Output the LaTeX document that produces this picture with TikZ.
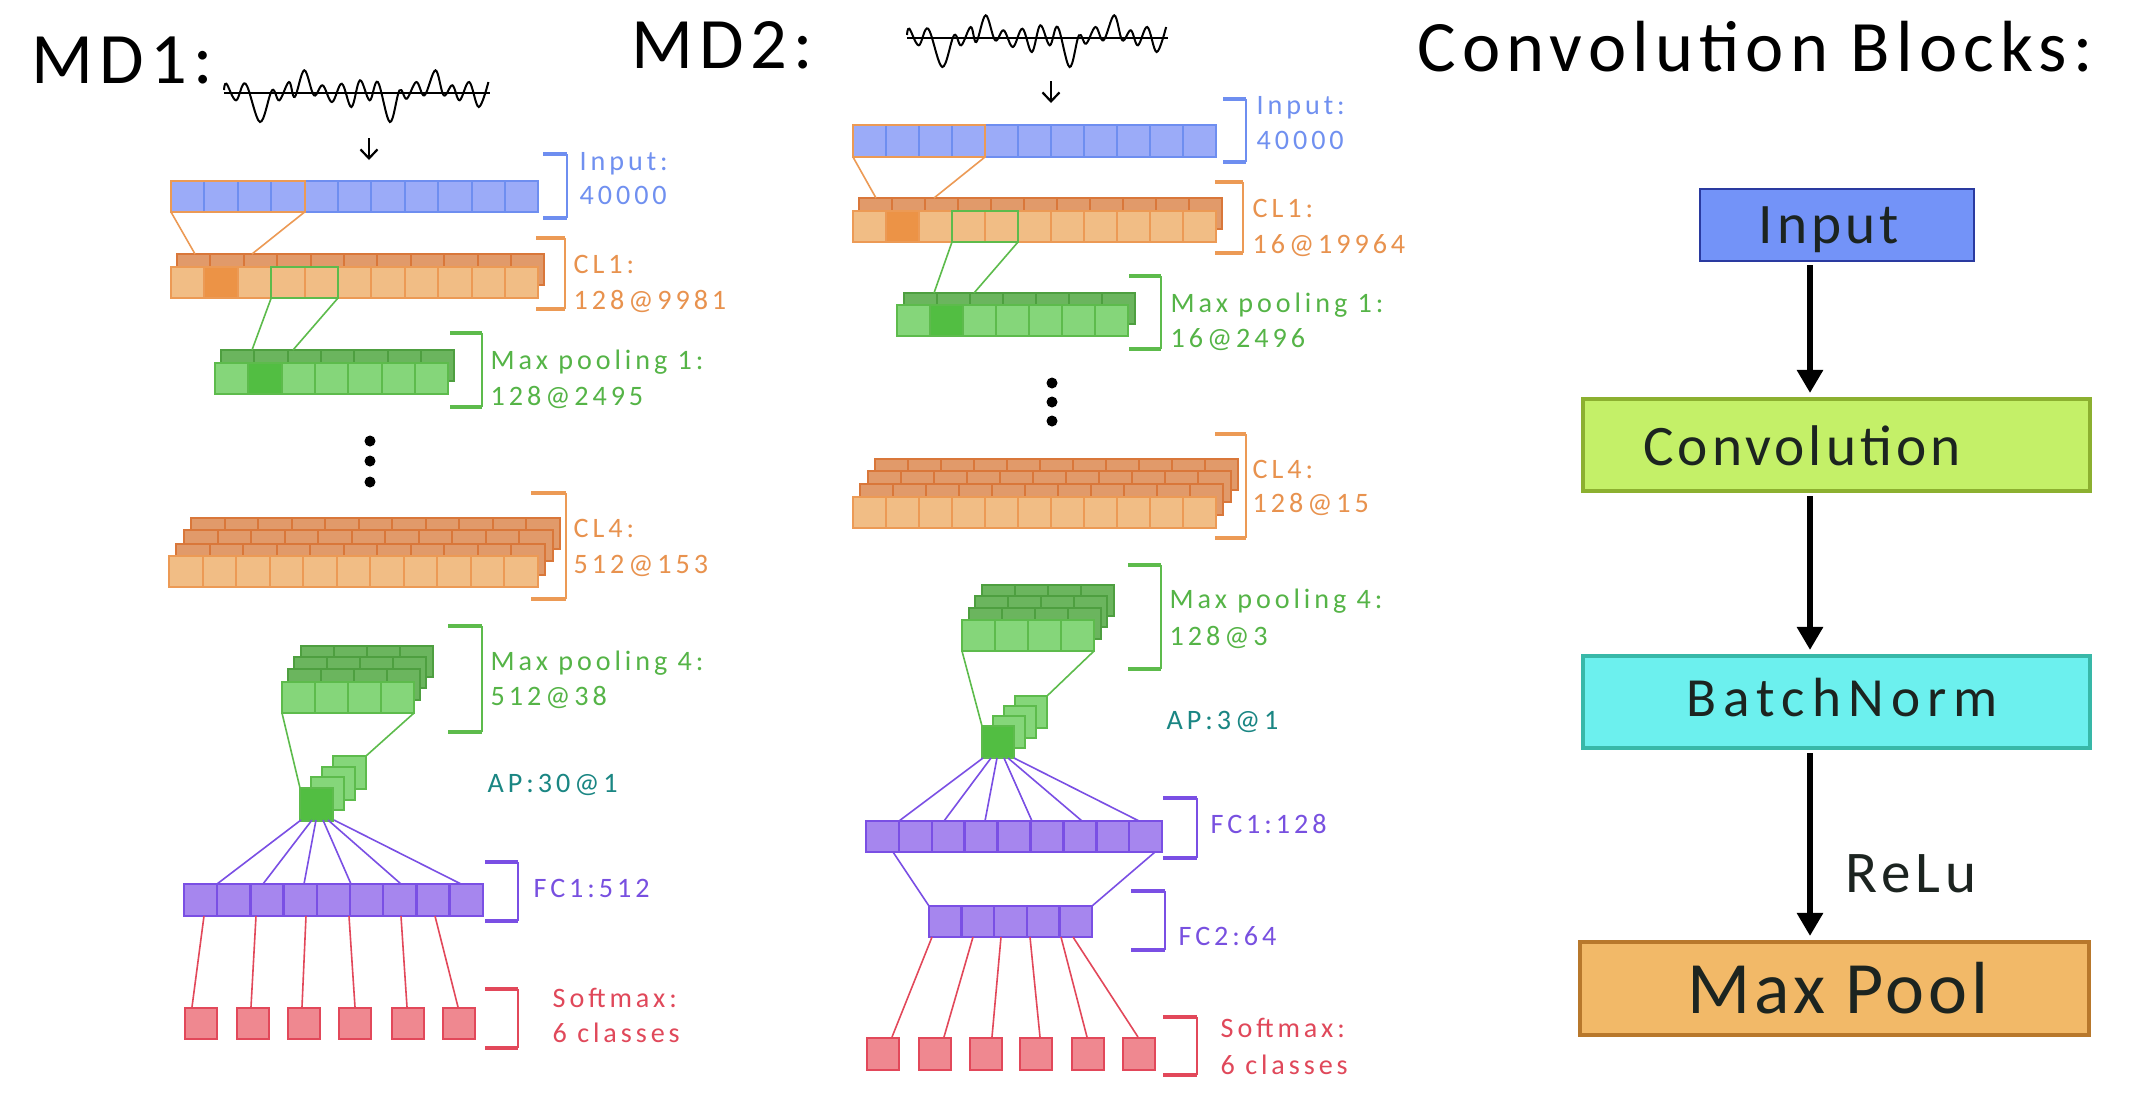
\documentclass[tikz,border=0pt]{standalone}
\usepackage{fontspec}
\setmainfont{Carlito}
\newfontfamily\labf[LetterSpace=14]{Carlito}
\newfontfamily\ttlf[LetterSpace=8.5]{Carlito}
\usetikzlibrary{arrows.meta}
\definecolor{inpF}{HTML}{9BABF8}
\definecolor{inpD}{HTML}{6E8EF0}
\definecolor{orF}{HTML}{F1BD85}
\definecolor{orD}{HTML}{EC9A55}
\definecolor{orbF}{HTML}{E19A6A}
\definecolor{orbD}{HTML}{D9773A}
\definecolor{orK}{HTML}{EC9346}
\definecolor{grF}{HTML}{85D67A}
\definecolor{grD}{HTML}{5DBB4C}
\definecolor{grbF}{HTML}{6BB55E}
\definecolor{grbD}{HTML}{4E9F40}
\definecolor{grK}{HTML}{52BE42}
\definecolor{puF}{HTML}{A686EE}
\definecolor{puD}{HTML}{7A4FE4}
\definecolor{reF}{HTML}{EF8890}
\definecolor{reD}{HTML}{E2485A}
\definecolor{teT}{HTML}{1A8683}
\definecolor{orT}{HTML}{E8924E}
\definecolor{grT}{HTML}{55B447}
\definecolor{inT}{HTML}{7090F0}
\definecolor{puT}{HTML}{7850E0}
\definecolor{reT}{HTML}{E0485A}
\definecolor{bInF}{HTML}{7393F8}
\definecolor{bInD}{HTML}{2A3AA0}
\definecolor{bCvF}{HTML}{C4F068}
\definecolor{bCvD}{HTML}{8CB030}
\definecolor{bBnF}{HTML}{6CF0EE}
\definecolor{bBnD}{HTML}{38B8A8}
\definecolor{bMpF}{HTML}{F2B968}
\definecolor{bMpD}{HTML}{B8782C}
\definecolor{btxt}{HTML}{1C2420}
\tikzset{
  cellI/.style={fill=inpF, draw=inpD, line width=0.02cm},
  cellO/.style={fill=orF, draw=orD, line width=0.02cm},
  cellOb/.style={fill=orbF, draw=orbD, line width=0.02cm},
  cellOd/.style={fill=orK, draw=orD, line width=0.02cm},
  cellG/.style={fill=grF, draw=grD, line width=0.02cm},
  cellGb/.style={fill=grbF, draw=grbD, line width=0.02cm},
  cellGd/.style={fill=grK, draw=grD, line width=0.02cm},
  cellP/.style={fill=puF, draw=puD, line width=0.025cm},
  cellR/.style={fill=reF, draw=reD, line width=0.02cm},
  hlO/.style={draw=orD, line width=0.02cm},
  hlG/.style={draw=grD, line width=0.02cm},
  conO/.style={draw=orD, line width=0.016cm},
  conG/.style={draw=grD, line width=0.016cm},
  conP/.style={draw=puD, line width=0.016cm},
  conR/.style={draw=reD, line width=0.016cm},
  lab/.style={font=\labf\fontsize{8}{9}\selectfont, inner sep=0pt, anchor=base west},
  ttl/.style={font=\ttlf\fontsize{20.6}{24}\selectfont, inner sep=0pt, anchor=base west},
  bbox/.style={inner sep=0pt},
  btext/.style={inner sep=0pt, anchor=base, text=btxt},
  barr/.style={line width=0.066cm, -{Triangle[width=0.25cm,length=0.23cm]}, shorten <=0.03cm, shorten >=0.04cm},
  sarr/.style={line width=0.022cm, -{Straight Barb[length=0.09cm,width=0.17cm]}},
  dotf/.style={fill=black}
}
\newcommand{\cellrow}[6]{\foreach \k in {1,...,#3}{\draw[#6] ({#1+(\k-1)*#4},#2) rectangle ++(#4,#5);}}
\newcommand{\mybrk}[5]{%
  \draw[#5, line width=0.04cm] (#1,#3) -- (#2,#3);
  \draw[#5, line width=0.02cm] (#2,#3) -- (#2,#4);
  \draw[#5, line width=0.04cm] (#1,#4) -- (#2,#4);}
\newcommand{\apcube}[5]{% x y size dx dy
  \foreach \k in {3,2,1}{\draw[cellG] ({#1+#4*\k},{#2-#5*\k}) rectangle ++(#3,#3);}
  \draw[cellGd] (#1,#2) rectangle ++(#3,#3);}
\newcommand{\mysignal}[3]{%
  \begin{scope}[shift={(#1,#2)}, xscale=#3]
    \draw[line width=0.022cm] (0,0) -- (266,0);
    \draw[line width=0.02cm] plot[smooth, tension=0.6] coordinates {(0,-3) (2.4,-9.3) (12,7.3) (21.6,-9.3) (36,29) (48,-2.7) (55.3,7.3) (65,-11) (70.7,4) (80.3,-22.7) (90,2.3) (98.6,-7.7) (108,9) (117.8,-9.3) (127.4,14) (136,-12.7) (145.7,7.3) (153.8,-11) (165.9,29) (175.5,-2.7) (182.7,5.7) (192.3,-11) (200.5,2.3) (211.5,-22.7) (219.7,2.3) (228.4,-7.7) (235.6,7.3) (245.2,-11) (254.8,14) (264.4,-11)};
  \end{scope}}
\begin{document}
\begin{tikzpicture}[x=0.01cm,y=-0.01cm]
\useasboundingbox (0,0) rectangle (2147,1105);
\fill[white] (0,0) rectangle (2147,1105);

% ================= MD1 =================
\node[ttl] (md1) at (31,83) {MD1:};
\mysignal{224}{93}{1}
\coordinate (s1a) at (369,138); \coordinate (s1b) at (369,160);
\draw[sarr] (s1a) -- (s1b);
% input
\cellrow{171}{181}{11}{33.4}{31}{cellI}
\draw[hlO] (171,181) rectangle (304.6,212);
\coordinate (m1i1) at (171,212); \coordinate (m1i2) at (304.6,212);
% CL1
\cellrow{177}{254}{11}{33.4}{31}{cellOb}
\cellrow{171}{267}{11}{33.4}{31}{cellO}
\draw[cellOd] (204.4,267) rectangle ++(33.4,31);
\draw[hlG] (271.2,267) rectangle (338,298);
\coordinate (m1c1) at (195,254); \coordinate (m1c2) at (252,254);
\draw[conO] (m1i1) -- (m1c1); \draw[conO] (m1i2) -- (m1c2);
\coordinate (m1g1) at (271.2,298); \coordinate (m1g2) at (338,298);
% MP1
\cellrow{221}{350}{7}{33.3}{31}{cellGb}
\cellrow{215}{363}{7}{33.3}{31}{cellG}
\draw[cellGd] (248.3,363) rectangle ++(33.3,31);
\coordinate (m1p1) at (252,350); \coordinate (m1p2) at (293,350);
\draw[conG] (m1g1) -- (m1p1); \draw[conG] (m1g2) -- (m1p2);
% dots
\fill[dotf] (370,441) circle (0.055cm);
\fill[dotf] (370,461) circle (0.055cm);
\fill[dotf] (370,482) circle (0.055cm);
% CL4
\cellrow{191}{518}{11}{33.5}{31}{cellOb}
\cellrow{184}{530}{11}{33.5}{31}{cellOb}
\cellrow{176}{544}{11}{33.5}{31}{cellOb}
\cellrow{169}{556}{11}{33.5}{31}{cellO}
% MP4
\cellrow{301}{646}{4}{33}{31}{cellGb}
\cellrow{294}{657}{4}{33}{31}{cellGb}
\cellrow{288}{669}{4}{33}{31}{cellGb}
\cellrow{282}{682}{4}{33}{31}{cellG}
\apcube{300}{788}{33}{11}{10.7}
\coordinate (m1q1) at (282,713); \coordinate (m1q2) at (414,713);
\coordinate (m1a1) at (300,788); \coordinate (m1a2) at (366,756);
\draw[conG] (m1q1) -- (m1a1); \draw[conG] (m1q2) -- (m1a2);
% FC1
\cellrow{184}{884}{9}{33.2}{32}{cellP}
\foreach \s/\e in {301/217, 312/263, 316/304, 323/351, 328/401, 334/461}{
  \draw[conP] (\s,820) -- (\e,884);}
% softmax
\foreach \x [count=\n] in {184,236,287,338,391,442}{
  \node[cellR, minimum width=0.32cm, minimum height=0.31cm, inner sep=0pt, anchor=north west] (m1s\n) at (\x,1007) {};}
\foreach \s/\e in {204/192, 256/251, 306/302, 349/355, 401/407, 435/458}{
  \draw[conR] (\s,916) -- (\e,1007);}
% brackets & labels MD1
\mybrk{543}{567}{154}{218}{inpD}
\node[lab, text=inT] (l1a) at (579,170) {Input:};
\node[lab, text=inT] (l1b) at (579,204) {40000};
\mybrk{536}{565}{238}{309}{orD}
\node[lab, text=orT] (l1c) at (573,273) {CL1:};
\node[lab, text=orT] (l1d) at (573,309) {128@9981};
\mybrk{450}{482}{333}{407}{grD}
\node[lab, text=grT] (l1e) at (490,369) {Max pooling 1:};
\node[lab, text=grT] (l1f) at (490,405) {128@2495};
\mybrk{531}{566}{493}{599}{orD}
\node[lab, text=orT] (l1g) at (573,537) {CL4:};
\node[lab, text=orT] (l1h) at (573,573) {512@153};
\mybrk{448}{482}{626}{732}{grD}
\node[lab, text=grT] (l1i) at (490,670) {Max pooling 4:};
\node[lab, text=grT] (l1j) at (490,705) {512@38};
\node[lab, text=teT] (l1k) at (487,792) {AP:30@1};
\mybrk{485}{518}{862}{921}{puD}
\node[lab, text=puT] (l1l) at (533,897) {FC1:512};
\mybrk{485}{518}{989}{1048}{reD}
\node[lab, text=reT] (l1m) at (552,1007) {Softmax:};
\node[lab, text=reT] (l1n) at (552,1042) {6 classes};

% ================= MD2 =================
\node[ttl] (md2) at (631,68) {MD2:};
\mysignal{907}{38}{0.98}
\coordinate (s2a) at (1051,81); \coordinate (s2b) at (1051,103);
\draw[sarr] (s2a) -- (s2b);
\cellrow{853}{125}{11}{33}{32}{cellI}
\draw[hlO] (853,125) rectangle (985,157);
\coordinate (m2i1) at (853,157); \coordinate (m2i2) at (985,157);
\cellrow{859}{198}{11}{33}{31}{cellOb}
\cellrow{853}{211}{11}{33}{31}{cellO}
\draw[cellOd] (886,211) rectangle ++(33,31);
\draw[hlG] (952,211) rectangle (1018,242);
\coordinate (m2c1) at (876,198); \coordinate (m2c2) at (934,198);
\draw[conO] (m2i1) -- (m2c1); \draw[conO] (m2i2) -- (m2c2);
\coordinate (m2g1) at (952,242); \coordinate (m2g2) at (1018,242);
\cellrow{904}{293}{7}{33}{31}{cellGb}
\cellrow{897}{305}{7}{33}{31}{cellG}
\draw[cellGd] (930,305) rectangle ++(33,31);
\coordinate (m2p1) at (934,293); \coordinate (m2p2) at (974,293);
\draw[conG] (m2g1) -- (m2p1); \draw[conG] (m2g2) -- (m2p2);
\fill[dotf] (1052,383) circle (0.055cm);
\fill[dotf] (1052,402) circle (0.055cm);
\fill[dotf] (1052,421) circle (0.055cm);
\cellrow{875}{459}{11}{33}{31}{cellOb}
\cellrow{868}{471}{11}{33}{31}{cellOb}
\cellrow{860}{484}{11}{33}{31}{cellOb}
\cellrow{853}{497}{11}{33}{31}{cellO}
\cellrow{982}{585}{4}{33}{31}{cellGb}
\cellrow{975}{596}{4}{33}{31}{cellGb}
\cellrow{969}{608}{4}{33}{31}{cellGb}
\cellrow{962}{620}{4}{33}{31}{cellG}
\apcube{982}{726}{32}{11}{10}
\coordinate (m2q1) at (962,651); \coordinate (m2q2) at (1094,651);
\coordinate (m2a1) at (982,726); \coordinate (m2a2) at (1047,696);
\draw[conG] (m2q1) -- (m2a1); \draw[conG] (m2q2) -- (m2a2);
\cellrow{866}{821}{9}{32.9}{31}{cellP}
\foreach \s/\e in {983/899, 991/944, 997/985, 1004/1032, 1008/1082, 1014/1139}{
  \draw[conP] (\s,758) -- (\e,821);}
\coordinate (m2f1) at (893,852); \coordinate (m2f2) at (1155,852);
\coordinate (m2h1) at (929,906); \coordinate (m2h2) at (1092,906);
\draw[conP] (m2f1) -- (m2h1); \draw[conP] (m2f2) -- (m2h2);
\cellrow{929}{906}{5}{32.6}{31}{cellP}
\foreach \x [count=\n] in {866,918,969,1019,1071,1122}{
  \node[cellR, minimum width=0.32cm, minimum height=0.32cm, inner sep=0pt, anchor=north west] (m2s\n) at (\x,1037) {};}
\foreach \s/\e in {932/892, 973/944, 1001/992, 1030/1040, 1061/1087, 1073/1138}{
  \draw[conR] (\s,937) -- (\e,1037);}
\mybrk{1223}{1246}{99}{162}{inpD}
\node[lab, text=inT] (l2a) at (1256,114) {Input:};
\node[lab, text=inT] (l2b) at (1256,149) {40000};
\mybrk{1215}{1243}{182}{253}{orD}
\node[lab, text=orT] (l2c) at (1252,217) {CL1:};
\node[lab, text=orT] (l2d) at (1252,253) {16@19964};
\mybrk{1129}{1161}{276}{349}{grD}
\node[lab, text=grT] (l2e) at (1170,312) {Max pooling 1:};
\node[lab, text=grT] (l2f) at (1170,347) {16@2496};
\mybrk{1215}{1246}{434}{538}{orD}
\node[lab, text=orT] (l2g) at (1252,478) {CL4:};
\node[lab, text=orT] (l2h) at (1252,512) {128@15};
\mybrk{1128}{1161}{565}{669}{grD}
\node[lab, text=grT] (l2i) at (1169,608) {Max pooling 4:};
\node[lab, text=grT] (l2j) at (1169,645) {128@3};
\node[lab, text=teT] (l2k) at (1166,729) {AP:3@1};
\mybrk{1163}{1197}{798}{858}{puD}
\node[lab, text=puT] (l2l) at (1210,833) {FC1:128};
\mybrk{1131}{1165}{891}{950}{puD}
\node[lab, text=puT] (l2m) at (1178,945) {FC2:64};
\mybrk{1163}{1197}{1017}{1075}{reD}
\node[lab, text=reT] (l2n) at (1220,1037) {Softmax:};
\node[lab, text=reT] (l2o) at (1220,1074) {6 classes};

% ================= Convolution blocks =================
\node[ttl] (cbt) at (1417,71) {Convolution Blocks:};
\node[bbox, fill=bInF, draw=bInD, line width=0.02cm, minimum width=2.74cm, minimum height=0.72cm] (bin) at (1837,225) {};
\node[bbox, fill=bCvF, draw=bCvD, line width=0.04cm, minimum width=5.07cm, minimum height=0.92cm] (bcv) at (1836.5,445) {};
\node[bbox, fill=bBnF, draw=bBnD, line width=0.04cm, minimum width=5.07cm, minimum height=0.92cm] (bbn) at (1836.5,702) {};
\node[bbox, fill=bMpF, draw=bMpD, line width=0.04cm, minimum width=5.09cm, minimum height=0.93cm] (bmp) at (1834.5,988.5) {};
\node[btext, font={\fontspec[LetterSpace=7]{Carlito}\fontsize{16.3}{19}\selectfont}] (tin) at (1829,243) {Input};
\node[btext, font={\fontspec[LetterSpace=7]{Carlito}\fontsize{16.3}{19}\selectfont}] (tcv) at (1802,465) {Convolution};
\node[btext, font={\fontspec[LetterSpace=13]{Carlito}\fontsize{15.7}{19}\selectfont}] (tbn) at (1842,716) {BatchNorm};
\node[btext, font={\fontspec[LetterSpace=5]{Carlito}\fontsize{21}{25}\selectfont}] (tmp) at (1838,1013) {Max Pool};
\coordinate (ax) at (1810,0);
\draw[barr] (bin.south -| ax) -- (bcv.north -| ax);
\draw[barr] (bcv.south -| ax) -- (bbn.north -| ax);
\draw[barr] (bbn.south -| ax) -- (bmp.north -| ax);
\node[inner sep=0pt, anchor=base west, text=btxt, font={\fontspec[LetterSpace=8]{Carlito}\fontsize{16.8}{20}\selectfont}] (relu) at (1845,892) {ReLu};
\end{tikzpicture}
\end{document}
